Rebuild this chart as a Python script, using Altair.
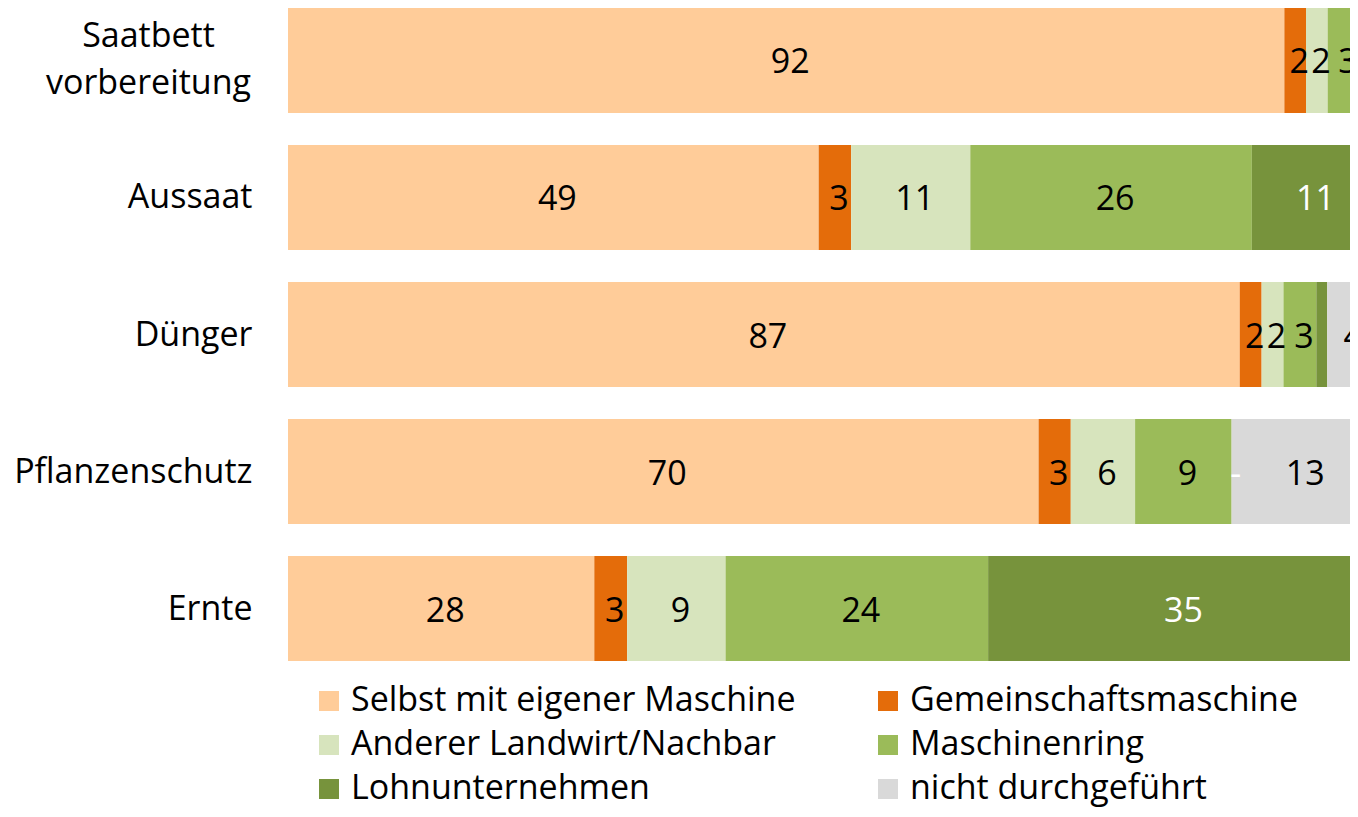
import altair as alt
import pandas as pd

tasks = ["Saatbett vorbereitung", "Aussaat", "Dünger", "Pflanzenschutz", "Ernte"]
series = ["Selbst mit eigener Maschine", "Gemeinschaftsmaschine",
          "Anderer Landwirt/Nachbar", "Maschinenring",
          "Lohnunternehmen", "nicht durchgeführt"]
colors = ["#FFCC99", "#E46C0A", "#D7E4BD", "#9BBB59", "#77933C", "#D9D9D9"]

# values per series (one per task, in task order)
selbst = [92, 49, 87, 70, 28]
gemeinschaft = [2, 3, 2, 3, 3]
anderer = [2, 11, 2, 6, 9]
maschinenring = [3, 26, 3, 9, 24]
lohn = [1, 11, 1, 0, 35]
nicht = [0, 0, 4, 13, 0]

# data labels as shown in the picture ("" = no label)
selbst_lbl = ["92", "49", "87", "70", "28"]
gemeinschaft_lbl = ["2", "3", "2", "3", "3"]
anderer_lbl = ["2", "11", "2", "6", "9"]
maschinenring_lbl = ["3", "26", "3", "9", "24"]
lohn_lbl = ["", "11", "", "-", "35"]
nicht_lbl = ["", "", "4", "13", ""]

values = [selbst, gemeinschaft, anderer, maschinenring, lohn, nicht]
labels = [selbst_lbl, gemeinschaft_lbl, anderer_lbl, maschinenring_lbl, lohn_lbl, nicht_lbl]

rows = []
for si, s in enumerate(series):
    for ti, t in enumerate(tasks):
        rows.append({"task": t, "series": s, "order": si,
                     "value": values[si][ti], "label": labels[si][ti]})
df = pd.DataFrame(rows)

FONT = "Open Sans"
FS = 34
PW = 1062
xscale = alt.Scale(domain=[0, PW / 1083], nice=False, zero=True)
is_saat = "datum.value == 'Saatbett vorbereitung'"
yenc = alt.Y("task:N", sort=tasks,
             scale=alt.Scale(paddingInner=0.2336, paddingOuter=0),
             axis=alt.Axis(title=None, domain=False, ticks=False, tickSize=0,
                           labelFontSize=FS, labelFont=FONT, labelColor="black",
                           labelPadding={"condition": {"test": is_saat, "value": 140}, "value": 36},
                           labelAlign={"condition": {"test": is_saat, "value": "center"}, "value": "right"},
                           labelOffset={"condition": {"test": is_saat, "value": -23}, "value": 1},
                           labelLimit=0, labelLineHeight=47,
                           labelExpr=is_saat + " ? ['Saatbett', 'vorbereitung'] : datum.value"))

base = alt.Chart(df).transform_stack(
    stack="value", groupby=["task"], offset="normalize",
    as_=["x0", "x1"], sort=[alt.SortField("order")]
).transform_calculate(mid="(datum.x0 + datum.x1) / 2")

bars = base.mark_bar(clip=True).encode(
    y=yenc,
    x=alt.X("x0:Q", scale=xscale, axis=None),
    x2="x1:Q",
    color=alt.Color("series:N", sort=series,
                    scale=alt.Scale(domain=series, range=colors),
                    legend=alt.Legend(title=None, orient="none", legendX=24, legendY=676,
                                      direction="horizontal",
                                      columns=2, symbolType="square", symbolSize=400,
                                      symbolStrokeWidth=0, labelFontSize=FS, labelFont=FONT,
                                      labelColor="black", columnPadding=75, rowPadding=10,
                                      labelOffset=5, padding=0, labelLimit=0)),
)

text = base.transform_filter("datum.label != ''").mark_text(
    clip=True, font=FONT, fontSize=FS, baseline="middle", align="center", dx=4, dy=3
).encode(
    y=yenc,
    x=alt.X("mid:Q", scale=xscale, axis=None),
    text="label:N",
    color=alt.condition(alt.datum.series == "Lohnunternehmen",
                        alt.value("white"), alt.value("black")),
)

chart = alt.layer(bars, text).properties(
    width=PW, height=653,
    autosize=alt.AutoSizeParams(type="none"),
    padding={"left": 280, "top": 0, "right": 0, "bottom": 148},
    background="white",
).configure_view(stroke=None)

chart.save("out.html", embed_options={"renderer": "svg", "actions": False})
